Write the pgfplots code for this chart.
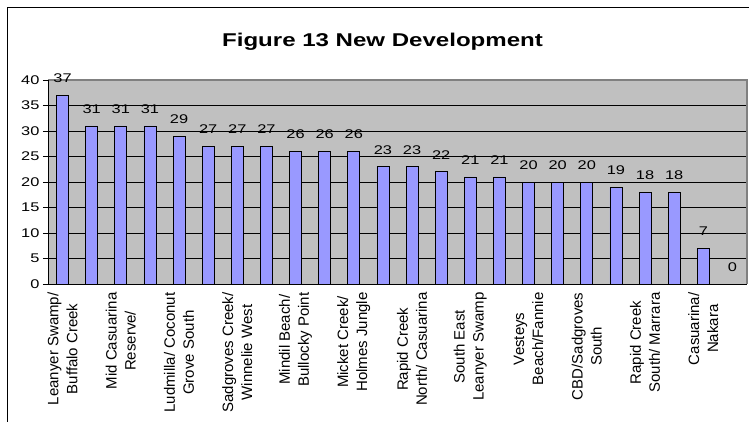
\documentclass[border=0pt]{standalone}
\usepackage{pgfplots}
\pgfplotsset{compat=1.18}
\usepackage{fontspec}
\setmainfont{Liberation Sans}
\newfontfamily\wide[FakeStretch=1.3]{Liberation Sans}
\definecolor{barblue}{HTML}{9999FF}
\definecolor{plotgray}{HTML}{C0C0C0}
\definecolor{edgegray}{HTML}{808080}

\begin{document}
\begin{tikzpicture}
\begin{axis}[
  scale only axis, width=699pt, height=204pt,
  at={(0,0)}, anchor=south west,
  ybar, bar width=0.41,
  xmin=-0.5, xmax=23.5, ymin=0, ymax=40,
  axis background/.style={fill=plotgray},
  axis line style={draw=none},
  clip=false,
  tick align=outside, tick pos=left,
  major tick length=5pt, minor tick length=5pt,
  xtick={0,2,...,22},
  xtick style={draw=none},
  minor xtick={-0.5,0.5,...,23.5},
  minor x tick style={black, line width=0.8pt},
  xticklabels={{Leanyer Swamp/\\Buffalo Creek},{Mid Casuarina\\Reserve/},{Ludmilla/ Coconut\\Grove South},{Sadgroves Creek/\\Winnelie West},{Mindil Beach/\\Bullocky Point},{Micket Creek/\\Holmes Jungle},{Rapid Creek\\North/ Casuarina},{South East\\Leanyer Swamp},{Vesteys\\Beach/Fannie},{CBD/Sadgroves\\South},{Rapid Creek\\South/ Marrara},{Casuarina/\\Nakara}},
  xticklabel style={font=\fontsize{15}{19}\selectfont, rotate=90, anchor=east, align=center},
  ytick={0,5,...,40},
  y tick style={black, line width=0.8pt},
  yticklabel style={font=\wide\fontsize{12.6}{14}\selectfont},
  /pgf/number format/assume math mode=true,
  ymajorgrids, grid style={black, line width=0.8pt},
  nodes near coords,
  nodes near coords style={font=\wide\fontsize{12.6}{14}\selectfont, inner sep=0pt, anchor=south, yshift=12pt},
]
\addplot[draw=black, line width=0.8pt, fill=barblue] coordinates {
  (0,37) (1,31) (2,31) (3,31) (4,29) (5,27) (6,27) (7,27)
  (8,26) (9,26) (10,26) (11,23) (12,23) (13,22) (14,21) (15,21)
  (16,20) (17,20) (18,20) (19,19) (20,18) (21,18) (22,7) (23,0)};
\draw[edgegray, line width=2pt] (rel axis cs:0,1) -- (rel axis cs:1,1) -- (rel axis cs:1,0);
\draw[black, line width=0.8pt] (rel axis cs:0,1) -- (rel axis cs:0,0) -- (rel axis cs:1,0);
\end{axis}
\draw[black, line width=1pt] (-40pt,-140pt) -- (-40pt,276pt) -- (710pt,276pt);
\node[anchor=base, font=\wide\bfseries\fontsize{18.5}{22}\selectfont] at (334.5pt,237pt) {Figure 13 New Development};
\pgfresetboundingbox
\useasboundingbox (-48pt,-137pt) rectangle (701pt,284pt);
\end{tikzpicture}
\end{document}
